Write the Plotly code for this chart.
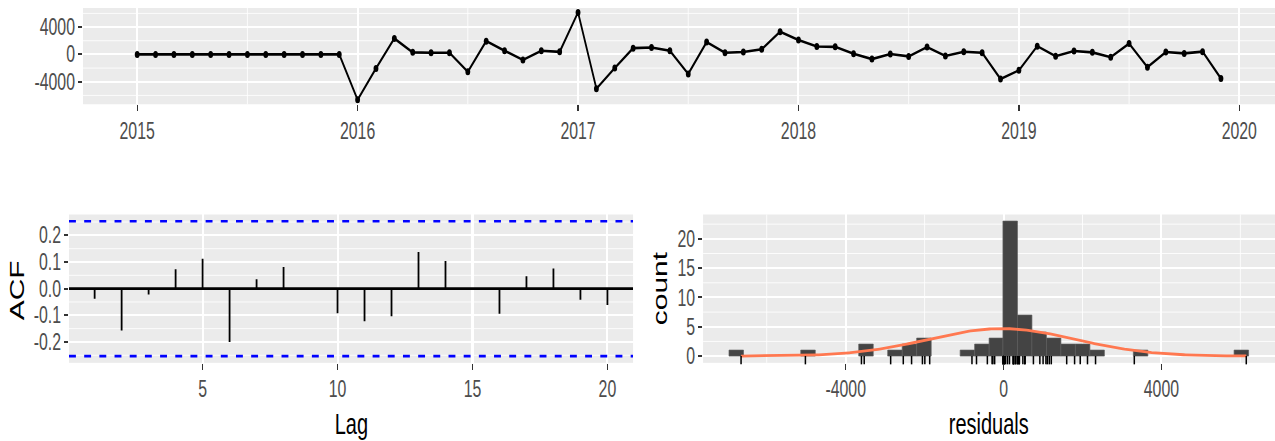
import numpy as np
import plotly.graph_objects as go

# ---------------- data ----------------
start_year = 2015
residuals = (
    [0, 0, 0, 0, 0, 0, 0, 0, 0, 0, 0, 0]                                          # 2015
    + [-6650, -2055, 2331, 300, 250, 250, -2540, 1943, 540, -800, 540, 380]       # 2016
    + [6150, -5020, -1994, 920, 1002, 540, -2860, 1800, 250, 350, 757, 3313]      # 2017
    + [2127, 1160, 1110, 100, -685, 50, -290, 1074, -225, 400, 250, -3600]        # 2018
    + [-2330, 1210, -270, 490, 300, -410, 1600, -1871, 350, 150, 400, -3530]      # 2019
)
year_ticks = [2015, 2016, 2017, 2018, 2019, 2020]
year_labels = ["2015", "2016", "2017", "2018", "2019", "2020"]
res_ticks = [-4000, 0, 4000]
res_labels = ["-4000", "0", "4000"]

acf_lags = list(range(1, 21))
acf_values = [-0.038, -0.157, -0.022, 0.073, 0.112, -0.200, 0.035, 0.081, 0.002, -0.092,
              -0.122, -0.104, 0.138, 0.104, -0.003, -0.094, 0.047, 0.076, -0.042, -0.061]
acf_ticks = [-0.2, -0.1, 0.0, 0.1, 0.2]
acf_labels = ["-0.2", "-0.1", "0.0", "0.1", "0.2"]
lag_ticks = [5, 10, 15, 20]

count_ticks = [0, 5, 10, 15, 20]
binwidth = 366

# ---------------- derived ----------------
res = np.array(residuals, dtype=float)
n = len(res)
t = start_year + np.arange(n) / 12.0


def expand(lo, hi, f=0.05):
    d = (hi - lo) * f
    return [lo - d, hi + d]


ci = 1.96 / np.sqrt(n)
bin_start = np.floor(res.min() / binwidth) * binwidth
bin_end = np.ceil(res.max() / binwidth) * binwidth
edges = np.arange(bin_start, bin_end + binwidth / 2, binwidth)
counts, _ = np.histogram(res, bins=edges)

mu, sd = res.mean(), res.std(ddof=1)
xs = np.linspace(res.min(), res.max(), 300)
ys = n * binwidth * np.exp(-0.5 * ((xs - mu) / sd) ** 2) / (sd * np.sqrt(2 * np.pi))

# The reference is a horizontally condensed rendering: draw wider, then squeeze with CSS.
W_OUT, H_REF = 1275, 441
H = 448
SQ = 0.69
W = round(W_OUT / SQ)


def px_x(a, b):
    return [a / W_OUT, b / W_OUT]


def px_y(top, bottom):
    return [1 - bottom / H_REF, 1 - top / H_REF]


FONT = "Liberation Sans, Arial, Helvetica, sans-serif"
TICKFONT = dict(family=FONT, size=23, color="#4d4d4d")
TITLEFONT_H = dict(family=FONT, size=29, color="black")
TITLEFONT_V = dict(family=FONT, size=30, color="black")

xcommon = dict(showline=False, zeroline=False, ticks="outside", ticklen=6, tickwidth=2.2,
               tickcolor="#333333", tickfont=TICKFONT, showgrid=True, gridcolor="white",
               gridwidth=2.6)
ycommon = dict(showline=False, zeroline=False, ticks="outside", ticklen=6, tickwidth=1.5,
               tickcolor="#333333", tickfont=TICKFONT, showgrid=True, gridcolor="white",
               gridwidth=2)


def xminor(vals):
    return dict(tickvals=vals, showgrid=True, gridcolor="white", gridwidth=1.4, ticks="")


def yminor(vals):
    return dict(tickvals=vals, showgrid=True, gridcolor="white", gridwidth=1, ticks="")


fig = go.Figure()

# top: residual time series
fig.add_trace(go.Scatter(x=t, y=res, mode="lines+markers", line=dict(color="black", width=2.6),
                         marker=dict(color="black", size=7), xaxis="x", yaxis="y",
                         showlegend=False))

# ACF
seg_x, seg_y = [], []
for lag, v in zip(acf_lags, acf_values):
    seg_x += [lag, lag, None]
    seg_y += [0, v, None]
acf_xr = expand(min(acf_lags), max(acf_lags))
fig.add_trace(go.Scatter(x=acf_xr, y=[0, 0], mode="lines", line=dict(color="black", width=2.8),
                         xaxis="x2", yaxis="y2", showlegend=False))
fig.add_trace(go.Scatter(x=seg_x, y=seg_y, mode="lines", line=dict(color="black", width=2.6),
                         xaxis="x2", yaxis="y2", showlegend=False))
for s in (1, -1):
    fig.add_trace(go.Scatter(x=acf_xr, y=[s * ci, s * ci], mode="lines",
                             line=dict(color="#0000ff", width=2.7, dash="10px,12px"),
                             xaxis="x2", yaxis="y2", showlegend=False))

# histogram
fig.add_trace(go.Histogram(x=res, xbins=dict(start=bin_start, end=bin_end, size=binwidth),
                           marker=dict(color="#444444", line=dict(color="#5c5c5c", width=0.8)),
                           xaxis="x3", yaxis="y3", showlegend=False))
fig.add_trace(go.Scatter(x=xs, y=ys, mode="lines", line=dict(color="#ff7850", width=2.8),
                         xaxis="x3", yaxis="y3", showlegend=False))
hist_yr = expand(0, counts.max())
fig.add_trace(go.Scatter(x=res, y=np.full(n, hist_yr[0] + 0.018 * (hist_yr[1] - hist_yr[0])),
                         mode="markers",
                         marker=dict(symbol="line-ns", size=6, line=dict(width=2.2, color="black")),
                         xaxis="x3", yaxis="y3", showlegend=False, cliponaxis=False))

fig.update_layout(
    width=W, height=H, margin=dict(l=0, r=0, t=0, b=0),
    paper_bgcolor="white", plot_bgcolor="#ebebeb", bargap=0, showlegend=False,
    xaxis=dict(xcommon, domain=px_x(83, 1275), range=expand(t.min(), t.max()),
               tickvals=year_ticks, ticktext=year_labels, anchor="y",
               minor=xminor([y + 0.5 for y in year_ticks[:-1]] + [2014.5])),
    yaxis=dict(ycommon, domain=px_y(8, 104), range=expand(res.min(), res.max()),
               tickvals=res_ticks, ticktext=res_labels, anchor="x",
               minor=yminor([-6000, -2000, 2000, 6000])),
    xaxis2=dict(xcommon, domain=px_x(69, 633), range=acf_xr, tickvals=lag_ticks,
                anchor="y2"),
    yaxis2=dict(ycommon, domain=px_y(214, 362), range=expand(-ci, ci),
                tickvals=acf_ticks, ticktext=acf_labels, anchor="x2",
                minor=yminor([-0.25, -0.15, -0.05, 0.05, 0.15, 0.25])),
    xaxis3=dict(xcommon, domain=px_x(703, 1275), range=expand(bin_start, bin_end),
                tickvals=res_ticks, ticktext=res_labels, anchor="y3",
                minor=xminor([-6000, -2000, 2000, 6000])),
    yaxis3=dict(ycommon, domain=px_y(214, 362), range=hist_yr, tickvals=count_ticks,
                anchor="x3", minor=yminor([2.5, 7.5, 12.5, 17.5, 22.5])),
    annotations=[
        dict(text="ACF", x=17 / W_OUT, y=1 - 290 / H_REF, xref="paper", yref="paper",
             textangle=-90, showarrow=False, font=TITLEFONT_V, xanchor="center",
             yanchor="middle"),
        dict(text="count", x=660 / W_OUT, y=1 - 288 / H_REF, xref="paper", yref="paper",
             textangle=-90, showarrow=False, font=TITLEFONT_V, xanchor="center",
             yanchor="middle"),
        dict(text="Lag", x=351 / W_OUT, y=1 - 423 / H_REF, xref="paper", yref="paper",
             showarrow=False, font=TITLEFONT_H, xanchor="center", yanchor="middle"),
        dict(text="residuals", x=989 / W_OUT, y=1 - 423 / H_REF, xref="paper", yref="paper",
             showarrow=False, font=TITLEFONT_H, xanchor="center", yanchor="middle"),
    ],
)

post = (
    "document.documentElement.style.overflow='hidden';"
    "document.body.style.margin='0';"
    "document.body.style.overflow='hidden';"
    "var gd=document.getElementById('{plot_id}');"
    "gd.style.transformOrigin='0 0';"
    "gd.style.transform='scaleX(" + str(SQ) + ")';"
)
fig.write_html("out.html", post_script=post, config={"displayModeBar": False})
